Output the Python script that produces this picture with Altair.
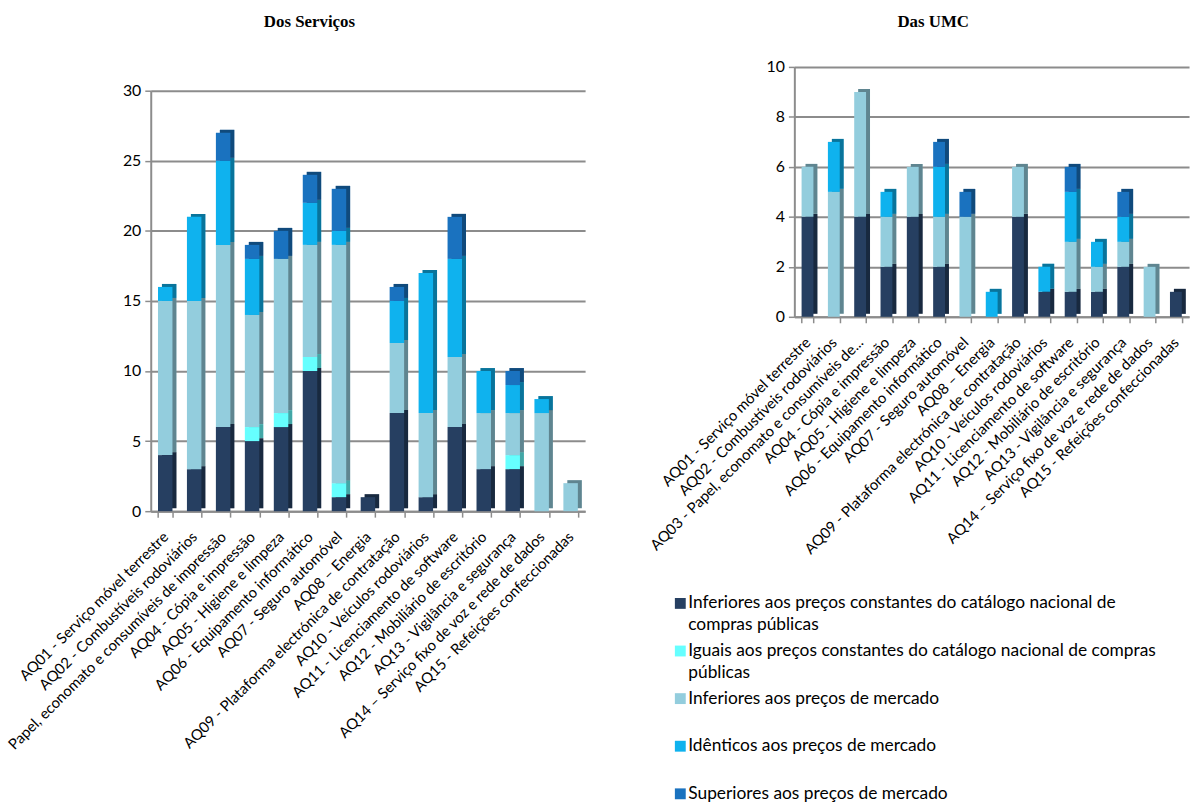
import altair as alt
import pandas as pd

cats_left = [
    "AQ01 - Serviço móvel terrestre", "AQ02 - Combustíveis rodoviários",
    "Papel, economato e consumíveis de impressão", "AQ04 - Cópia e impressão",
    "AQ05 - Higiene e limpeza", "AQ06 - Equipamento informático",
    "AQ07 - Seguro automóvel", "AQ08 – Energia",
    "AQ09 - Plataforma electrónica de contratação", "AQ10 - Veículos rodoviários",
    "AQ11 - Licenciamento de software", "AQ12 - Mobiliário de escritório",
    "AQ13 - Vigilância e segurança", "AQ14 – Serviço fixo de voz e rede de dados",
    "AQ15 - Refeições confeccionadas"]
cats_right = list(cats_left)
cats_right[2] = "AQ03 - Papel, economato e consumíveis de..."

series = [
    "Inferiores aos preços constantes do catálogo nacional de compras públicas",
    "Iguais aos preços constantes do catálogo nacional de compras públicas",
    "Inferiores aos preços de mercado",
    "Idênticos aos preços de mercado",
    "Superiores aos preços de mercado"]
legend_line1 = ["Inferiores aos preços constantes do catálogo nacional de",
                "Iguais aos preços constantes do catálogo nacional de compras",
                "Inferiores aos preços de mercado",
                "Idênticos aos preços de mercado",
                "Superiores aos preços de mercado"]
legend_line2 = ["compras públicas", "públicas", "", "", ""]
colors = ["#263F61", "#66FFFF", "#93CDDD", "#0FB2EE", "#1A72BF"]

# Dos Serviços
inf_cat_L = [4, 3, 6, 5, 6, 10, 1, 1, 7, 1, 6, 3, 3, 0, 0]
igu_cat_L = [0, 0, 0, 1, 1, 1, 1, 0, 0, 0, 0, 0, 1, 0, 0]
inf_mer_L = [11, 12, 13, 8, 11, 8, 17, 0, 5, 6, 5, 4, 3, 7, 2]
ide_mer_L = [1, 6, 6, 4, 0, 3, 1, 0, 3, 10, 7, 3, 2, 1, 0]
sup_mer_L = [0, 0, 2, 1, 2, 2, 3, 0, 1, 0, 3, 0, 1, 0, 0]

# Das UMC
inf_cat_R = [4, 0, 4, 2, 4, 2, 0, 0, 4, 1, 1, 1, 2, 0, 1]
igu_cat_R = [0, 0, 0, 0, 0, 0, 0, 0, 0, 0, 0, 0, 0, 0, 0]
inf_mer_R = [2, 5, 5, 2, 2, 2, 4, 0, 2, 0, 2, 1, 1, 2, 0]
ide_mer_R = [0, 2, 0, 1, 0, 2, 0, 1, 0, 1, 2, 1, 1, 0, 0]
sup_mer_R = [0, 0, 0, 0, 0, 1, 1, 0, 0, 0, 1, 0, 1, 0, 0]


def long_df(cats, arrays):
    rows = []
    for si, arr in enumerate(arrays):
        for ci, v in enumerate(arr):
            if v > 0:
                rows.append({"cat": cats[ci], "series": series[si], "ord": si, "value": v})
    return pd.DataFrame(rows)


df_L = long_df(cats_left, [inf_cat_L, igu_cat_L, inf_mer_L, ide_mer_L, sup_mer_L])
df_R = long_df(cats_right, [inf_cat_R, igu_cat_R, inf_mer_R, ide_mer_R, sup_mer_R])

color_scale = alt.Scale(domain=series, range=colors)
FONT = "Lato"
GRID = "#8c8c8c"


def bars(df, cats, width, height, yrange, ymax, ystep, pad, title, toff):
    x = alt.X("cat:N", sort=cats, title=None,
              scale=alt.Scale(paddingInner=pad, paddingOuter=pad / 2),
              axis=alt.Axis(labelAngle=-45, labelAlign="right", labelBaseline="middle",
                            labelFont=FONT, labelFontSize=15, labelColor="#000000",
                            labelLimit=500, labelPadding=17,
                            tickBand="extent", tickColor=GRID, tickWidth=1.5, tickSize=6,
                            domainColor=GRID, domainWidth=2, grid=False))
    y = alt.Y("value:Q", stack="zero", title=None,
              scale=alt.Scale(domain=[0, ymax], nice=False, range=yrange),
              axis=alt.Axis(values=list(range(0, ymax + 1, ystep)), labelFont=FONT,
                            labelFontSize=16, labelColor="#000000", labelPadding=4,
                            tickColor=GRID, tickSize=6, tickWidth=1.5,
                            domainColor=GRID, domainWidth=2,
                            grid=True, gridColor=GRID, gridWidth=2))
    color = alt.Color("series:N", scale=color_scale, legend=None)
    order = alt.Order("ord:Q", sort="ascending")
    base = alt.Chart(df).encode(x=x, y=y, order=order)
    side = base.mark_bar(xOffset=4, yOffset=-3).encode(color=color)
    shade = base.mark_bar(xOffset=4, yOffset=-3, color="#000000", opacity=0.35)
    front = base.mark_bar().encode(color=color)
    return alt.layer(side, shade, front).properties(
        width=width, height=height,
        title=alt.TitleParams(title, font="Liberation Serif", fontSize=17, fontWeight="bold",
                              anchor="middle", frame="group", dx=-59, offset=toff,
                              color="#000000"))


left = bars(df_L, cats_left, 438, 448, [448, 24], 30, 5, 0.5, "Dos Serviços", 36)
right = bars(df_R, cats_right, 398, 252, [252, 0], 10, 2, 0.55, "Das UMC", 28)

leg_df = pd.DataFrame({"series": series, "line1": legend_line1, "line2": legend_line2,
                       "idx": list(range(len(series)))})
ly = alt.Y("idx:O", axis=None, scale=alt.Scale(paddingInner=0, paddingOuter=0))
lbase = alt.Chart(leg_df).encode(y=ly)
sq = lbase.mark_square(size=120, opacity=1).encode(
    x=alt.value(-115), color=alt.Color("series:N", scale=color_scale, legend=None))
t1 = lbase.mark_text(align="left", baseline="middle", font=FONT, fontSize=17.5,
                     color="#000000").encode(x=alt.value(-107), text="line1:N")
t2 = lbase.mark_text(align="left", baseline="middle", font=FONT, fontSize=17.5,
                     color="#000000", dy=22).encode(x=alt.value(-107), text="line2:N")
legend = alt.layer(sq, t1, t2).properties(width=390, height=240)

chart = alt.hconcat(
    left,
    alt.vconcat(right, legend, spacing=22),
    spacing=62
).configure_view(stroke=None).properties(padding={"left": 5, "top": 10, "right": 5, "bottom": 0})

chart.save("out.html", embed_options={"renderer": "svg", "actions": False})
